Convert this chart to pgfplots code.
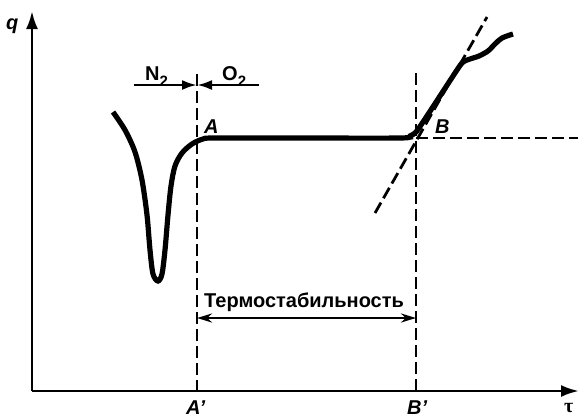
\documentclass[border=0pt]{standalone}
\usepackage{pgfplots}
\pgfplotsset{compat=1.18}
\usepackage{fontspec}
\setmainfont{Liberation Sans}
\newfontfamily\serif{Liberation Serif}
\usetikzlibrary{arrows.meta}

\begin{document}
\begin{tikzpicture}[lbl/.style={inner sep=0pt, font=\fontsize{20}{24}\selectfont\bfseries}]
\useasboundingbox (0,0) rectangle (578pt,416pt);
\begin{axis}[
    at={(0,0)}, anchor=south west,
    scale only axis, width=578pt, height=416pt,
    xmin=0, xmax=578, ymin=0, ymax=416,
    y dir=reverse, % pixel-style coordinates, y grows downward
    hide axis, clip=false,
]
% axes
\addplot[black, line width=2.8pt, -{Latex[length=18pt,width=12pt]}] coordinates {(32,391) (32,11)};
\addplot[black, line width=2.8pt, -{Latex[length=18pt,width=12pt]}] coordinates {(32,391) (579,391)};

% dashed guides
\addplot[black, line width=2.8pt, dash pattern=on 12pt off 5pt] coordinates {(197,74) (197,391)};
\addplot[black, line width=2.8pt, dash pattern=on 12pt off 5pt] coordinates {(416,73) (416,391)};
\addplot[black, line width=2.8pt, dash pattern=on 12pt off 5pt] coordinates {(416,138) (578,138)};
\addplot[black, line width=2.8pt, dash pattern=on 12pt off 5pt] coordinates {(375,213) (487,17)};

% curve
\addplot[black, line width=5.2pt, smooth, tension=0.5] coordinates {
    (113,112) (125,130) (135,152) (142,180) (147,215) (150,250)
    (153,274) (158,281) (162,274) (165,250) (168,215) (171,186)
    (175,166) (182,153) (192,144) (203,139) (215,138) (300,138)
    (400,138) (410,136) (416,132) (423,122) (440,96) (457,70)
    (463,62) (470,59) (479,56) (488,51) (495,44) (502,38) (513,34)
};

% N2 / O2 arrows
\addplot[black, line width=2.6pt, -{Latex[length=15pt,width=10pt]}] coordinates {(134,85) (197,85)};
\addplot[black, line width=2.6pt, -{Latex[length=15pt,width=10pt]}] coordinates {(259,85) (197,85)};

% thermostability arrow
\addplot[black, line width=2.6pt, {Stealth[length=15pt,width=9pt]}-{Stealth[length=15pt,width=9pt]}] coordinates {(197,318) (416,318)};

% labels
\node[lbl, anchor=base west] at (axis cs:145,80) {N\raisebox{-0.3em}{\fontsize{15}{15}\selectfont 2}};
\node[lbl, anchor=base west] at (axis cs:222,80) {O\raisebox{-0.3em}{\fontsize{15}{15}\selectfont 2}};
\node[lbl, anchor=base west] at (axis cs:204,307) {Термостабильность};
\node[lbl, anchor=base west] at (axis cs:204,133) {\itshape A};
\node[lbl, anchor=base west] at (axis cs:435,133) {\itshape B};
\node[lbl, anchor=base west] at (axis cs:6,29) {\itshape q};
\node[lbl, anchor=base west] at (axis cs:186,414) {\itshape A'};
\node[lbl, anchor=base west] at (axis cs:407,414) {\itshape B'};
\node[lbl, anchor=base west] at (axis cs:564,412) {\serif τ};
\end{axis}
\end{tikzpicture}
\end{document}
